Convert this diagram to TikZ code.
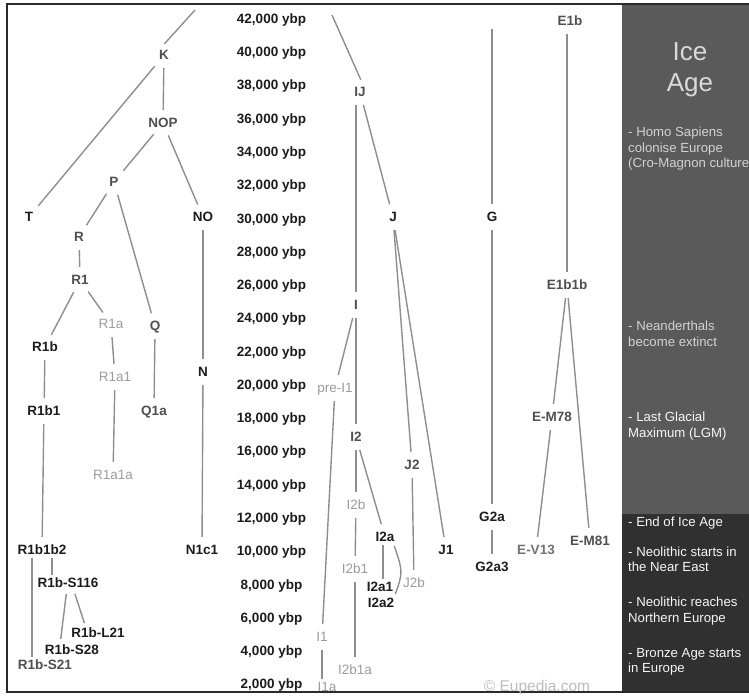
\documentclass[tikz,border=0pt]{standalone}
\usepackage{fontspec}
\setmainfont{Liberation Sans}
\usetikzlibrary{calc}
\definecolor{linegray}{HTML}{8E8E8E}
\definecolor{txtdark}{HTML}{1C1C1C}
\definecolor{txtmid}{HTML}{4F4F4F}
\definecolor{txtlight}{HTML}{9C9C9C}
\definecolor{panelup}{HTML}{5A5A5A}
\definecolor{paneldn}{HTML}{303030}
\definecolor{framec}{HTML}{2A2A2A}
\definecolor{notesoft}{HTML}{D2D2D2}
\definecolor{notebright}{HTML}{F6F6F6}
\definecolor{iceage}{HTML}{DADADA}
\definecolor{copyc}{HTML}{BDBDBD}
\tikzset{
  hg/.style={inner sep=0pt, text height=9.7pt, text depth=0pt},
  dk/.style={hg, text=txtdark, font=\fontsize{13.5}{16}\selectfont\bfseries},
  md/.style={hg, text=txtmid, font=\fontsize{13.5}{16}\selectfont\bfseries},
  lt/.style={hg, text=txtlight, font=\fontsize{13.5}{16}\selectfont},
  tlab/.style={hg, text=txtdark, font=\fontsize{13.5}{16}\selectfont\bfseries},
  ln/.style={draw=linegray, line width=1.4pt, shorten <=8pt, shorten >=8pt},
  lns/.style={draw=linegray, line width=1.4pt, shorten <=3pt, shorten >=3pt},
  pnote/.style={inner sep=0pt, text height=9.5pt, text depth=0pt, anchor=west,
    font=\fontsize{13.2}{15}\selectfont},
  bigt/.style={inner sep=0pt, text height=18.6pt, text depth=0pt, text=iceage,
    font=\fontsize{26}{30}\selectfont},
}
\begin{document}
\begin{tikzpicture}[x=1pt,y=-1pt]
\useasboundingbox (0,0) rectangle (749,696);
\fill[white] (0,0) rectangle (749,696);
% side panel
\fill[panelup] (622,5) rectangle (749,514);
\fill[paneldn] (622,514) rectangle (749,692);
\draw[framec, line width=1.5pt] (7,4) rectangle (760,692);

% time axis
\foreach \k in {0,...,20}{
  \pgfmathtruncatemacro{\v}{42-2*\k}
  \node[tlab] (t\k) at (271.5,{18.5+33.28*\k}) {\v,000 ybp};
}

% ---- K branch
\coordinate (kTop) at (195,10);
\node[md] (K) at (164,55) {K};
\node[md] (NOP) at (163,123) {NOP};
\node[md] (P) at (114,182) {P};
\node[dk] (T) at (29,217) {T};
\node[dk] (NO) at (203,217) {NO};
\node[md] (R) at (79,237) {R};
\node[md] (R1) at (80,280) {R1};
\node[lt] (R1a) at (111,324) {R1a};
\node[md] (Q) at (155,326) {Q};
\node[dk] (R1b) at (45,347) {R1b};
\node[lt] (R1a1) at (115,377) {R1a1};
\node[dk] (N) at (203,372) {N};
\node[dk] (R1b1) at (44,411) {R1b1};
\node[md] (Q1a) at (154,411) {Q1a};
\node[lt] (R1a1a) at (113,475) {R1a1a};
\node[dk] (R1b1b2) at (42,550) {R1b1b2};
\node[dk] (N1c1) at (202,550) {N1c1};
\node[dk] (S116) at (68,583) {R1b-S116};
\node[dk] (L21) at (98,633) {R1b-L21};
\node[dk] (S28) at (72,650) {R1b-S28};
\node[md] (S21) at (45,665) {R1b-S21};

\draw[ln, shorten <=0pt] (kTop) -- (K.north west);
\draw[ln] (K) -- (T);
\draw[ln] (K) -- (NOP);
\draw[ln] (NOP) -- (P);
\draw[ln] (NOP) -- (NO);
\draw[ln] (P) -- (R);
\draw[ln] (P) -- (Q);
\draw[ln] (NO) -- (N);
\draw[ln] (R) -- (R1);
\draw[ln] (R1) -- (R1b);
\draw[ln] (R1) -- (R1a);
\draw[ln] (R1a) -- (R1a1);
\draw[ln] (Q) -- (Q1a);
\draw[ln] (R1b) -- (R1b1);
\draw[ln] (R1a1) -- (R1a1a);
\draw[ln] (N) -- (N1c1);
\draw[ln] (R1b1) -- (R1b1b2);
\draw[lns] (R1b1b2.south -| 52,0) -- (S116.north -| 52,0);
\draw[lns] (R1b1b2.south -| 32,0) -- (S21.north -| 32,0);
\draw[lns, shorten <=6pt, shorten >=6pt] ([xshift=-1pt]S116.south) -- ([xshift=-12pt]S28.north);
\draw[lns, shorten <=6pt, shorten >=5pt] ([xshift=5pt]S116.south) -- ([xshift=-12pt]L21.north);

% ---- IJ branch
\coordinate (ijTop) at (332,15);
\node[md] (IJ) at (360,92) {IJ};
\node[md] (I) at (356,305) {I};
\node[dk] (J) at (393,217) {J};
\node[lt] (preI1) at (335,388) {pre-I1};
\node[md] (I2) at (356,437) {I2};
\node[md] (J2) at (412,465) {J2};
\node[lt] (I2b) at (356,505) {I2b};
\node[dk] (I2a) at (385,537) {I2a};
\node[dk] (J1) at (446,550) {J1};
\node[lt] (I2b1) at (355,569) {I2b1};
\node[dk] (I2a1) at (380,587) {I2a1};
\node[dk] (I2a2) at (381,603) {I2a2};
\node[lt] (J2b) at (414,583) {J2b};
\node[lt] (I1) at (322,637) {I1};
\node[lt] (I2b1a) at (355,670) {I2b1a};
\node[lt] (I1a) at (327,687) {I1a};
\coordinate (i2aBend) at (403,572);

\draw[ln, shorten <=0pt] (ijTop) -- ([xshift=4pt]IJ.north);
\draw[ln] (I |- IJ.south) -- (I);
\draw[ln] (IJ) -- (J);
\draw[ln] (J) -- (J2);
\draw[ln] (J) -- (J1);
\draw[ln] (I) -- (preI1);
\draw[ln] (I) -- (I2);
\draw[ln] (preI1) -- (I1);
\draw[ln] (I2) -- (I2b);
\draw[ln] (I2) -- (I2a);
\draw[ln] (I2b) -- (I2b1);
\draw[ln] (I2b1) -- (I2b1a);
\draw[lns] (I2a.south -| 383,0) -- (I2a1.north -| 383,0);
\draw[lns, shorten <=4pt, shorten >=4pt] ([xshift=8pt]I2a.south) .. controls (i2aBend) .. ([xshift=13pt]I2a2.north);
\draw[ln] (J2) -- (J2b);
\draw[lns, shorten <=8pt] (I1) -- (I1 |- I1a.north);

% ---- G and E branches
\coordinate (gTop) at (492,29);
\node[dk] (G) at (492,217) {G};
\node[dk] (G2a) at (492,517) {G2a};
\node[dk] (G2a3) at (492,567) {G2a3};
\node[md] (E1b) at (570,21) {E1b};
\node[md] (E1b1b) at (567,285) {E1b1b};
\node[md] (EM78) at (552,417) {E-M78};
\node[md, text=txtmid!80!white] (EV13) at (536,550) {E-V13};
\node[md] (EM81) at (590,541) {E-M81};

\draw[ln, shorten <=0pt] (gTop) -- (G);
\draw[ln] (G) -- (G2a);
\draw[ln] (G2a) -- (G2a3);
\draw[ln] (E1b1b |- E1b.south) -- (E1b1b);
\draw[ln] (E1b1b) -- (EM78);
\draw[ln] (E1b1b) -- (EM81);
\draw[ln] (EM78) -- (EV13);

\node[hg, text=copyc, font=\fontsize{15.5}{18}\selectfont] (copy) at (537,687) {© Eupedia.com};

% ---- side panel texts
\node[bigt] (ice) at (690,51) {Ice};
\node[bigt] (age) at (690,82) {Age};
\node[pnote, text=notesoft] (n1a) at (628,132) {- Homo Sapiens};
\node[pnote, text=notesoft] (n1b) at (628,148) {colonise Europe};
\node[pnote, text=notesoft] (n1c) at (628,163) {(Cro-Magnon culture};
\node[pnote, text=notesoft] (n2a) at (628,326) {- Neanderthals};
\node[pnote, text=notesoft] (n2b) at (628,342) {become extinct};
\node[pnote, text=notebright] (n3a) at (628,417) {- Last Glacial};
\node[pnote, text=notebright] (n3b) at (628,433) {Maximum (LGM)};
\node[pnote, text=notebright] (n4) at (628,522) {- End of Ice Age};
\node[pnote, text=notebright] (n5a) at (628,552) {- Neolithic starts in};
\node[pnote, text=notebright] (n5b) at (628,567) {the Near East};
\node[pnote, text=notebright] (n6a) at (628,602) {- Neolithic reaches};
\node[pnote, text=notebright] (n6b) at (628,618) {Northern Europe};
\node[pnote, text=notebright] (n7a) at (628,653) {- Bronze Age starts};
\node[pnote, text=notebright] (n7b) at (628,668) {in Europe};
\end{tikzpicture}
\end{document}
